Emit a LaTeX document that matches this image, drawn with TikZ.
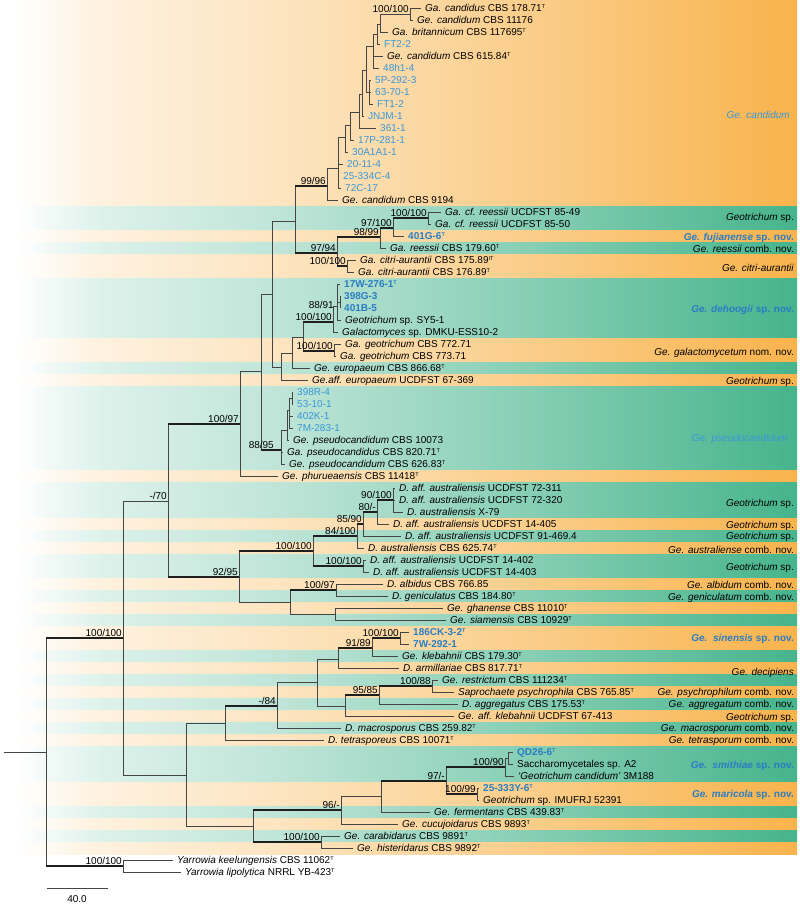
\documentclass[tikz,border=0pt]{standalone}
\usepackage{fontspec}
\setmainfont{Liberation Sans}
\definecolor{orF}{HTML}{F8B34C}
\definecolor{grF}{HTML}{46B48D}
\colorlet{orA}{orF!18!white}
\colorlet{orB}{orF!35!white}
\colorlet{orC}{orF!69!white}
\colorlet{grA}{grF!18!white}
\colorlet{grB}{grF!35!white}
\colorlet{grC}{grF!69!white}
\definecolor{lblue}{HTML}{3A97D6}
\definecolor{dblue}{HTML}{2B7DC2}
\definecolor{lineC}{HTML}{454545}
\pgfdeclarehorizontalshading{shO}{100bp}{color(0bp)=(white); color(25.94bp)=(white); color(31.27bp)=(orA); color(42.57bp)=(orB); color(60.13bp)=(orC); color(75bp)=(orF); color(100bp)=(orF)}
\pgfdeclarehorizontalshading{shG}{100bp}{color(0bp)=(white); color(25.94bp)=(white); color(31.27bp)=(grA); color(42.57bp)=(grB); color(60.13bp)=(grC); color(75bp)=(grF); color(100bp)=(grF)}
\newcommand\lfnt{\fontsize{10}{12}\selectfont}
\newcommand\tp{\raisebox{3.3pt}{\fontsize{5.5}{6}\selectfont T}}
\newcommand\itp{\raisebox{3.3pt}{\fontsize{5.5}{6}\selectfont IT}}
\newcommand\tbr[2]{\draw[br] (#1) |- (#2);}
\newcommand\tbl[2]{\draw[br] (#1) |- (#2.west);}
\newcommand\tbt[2]{\draw[br] (#1) -- (#1 |- #2); \draw[brt] (#1 |- #2) -- (#2);}
\newcommand\bandO[2]{\shade[shading=shO] (0,#1) rectangle (797,#2);}
\newcommand\bandG[2]{\shade[shading=shG] (0,#1) rectangle (797,#2);}
\begin{document}
\begin{tikzpicture}[x=1pt,y=-1pt,
  lf/.style={anchor=west, inner xsep=4pt, inner ysep=0pt, text height=7.2pt, text depth=0.2pt, font=\lfnt},
  lfb/.style={lf, text=lblue},
  lfn/.style={lf, text=dblue, font=\lfnt\bfseries},
  bs/.style={anchor=south east, inner sep=0pt, xshift=-1pt, yshift=1.2pt, font=\lfnt},
  br/.style={draw=lineC, line width=0.8pt},
  brt/.style={draw=black!88, line width=2.2pt},
  cl/.style={anchor=base east, inner sep=0pt, font=\lfnt}]
\useasboundingbox (0,0) rectangle (800,905);
% ---------- bands ----------
\bandO{0}{206}\bandG{206}{230}\bandO{230}{242}\bandG{242}{254}\bandO{254}{278}
\bandG{278}{338}\bandO{338}{362}\bandG{362}{374}\bandO{374}{386}\bandG{386}{470}
\bandO{470}{482}\bandG{482}{518}\bandO{518}{530}\bandG{530}{542}\bandO{542}{554}
\bandG{554}{578}\bandO{578}{590}\bandG{590}{602}\bandO{602}{614}\bandG{614}{626}
\bandO{626}{650}\bandG{650}{662}\bandO{662}{674}\bandG{674}{686}\bandO{686}{698}
\bandG{698}{710}\bandO{710}{722}\bandG{722}{734}\bandO{734}{746}\bandG{746}{782}
\bandO{782}{806}\bandG{806}{818}\bandO{818}{830}\bandG{830}{842}\bandO{842}{854}
% ---------- leaves ----------
\node[lf] (l1) at (421,8) {\textit{Ga. candidus} CBS 178.71\tp};
\node[lf] (l2) at (413,20) {\textit{Ge. candidum} CBS 11176};
\node[lf] (l3) at (388,32) {\textit{Ga. britannicum} CBS 117695\tp};
\node[lfb] (l4) at (380,44) {FT2-2};
\node[lf] (l5) at (383,56) {\textit{Ge. candidum} CBS 615.84\tp};
\node[lfb] (l6) at (379,68) {48h1-4};
\node[lfb] (l7) at (371,80) {5P-292-3};
\node[lfb] (l8) at (371,92) {63-70-1};
\node[lfb] (l9) at (373,104) {FT1-2};
\node[lfb] (l10) at (364,116) {JNJM-1};
\node[lfb] (l11) at (376,128) {361-1};
\node[lfb] (l12) at (354,140) {17P-281-1};
\node[lfb] (l13) at (348,152) {30A1A1-1};
\node[lfb] (l14) at (343,164) {20-11-4};
\node[lfb] (l15) at (339,176) {25-334C-4};
\node[lfb] (l16) at (341,188) {72C-17};
\node[lf] (l17) at (338,200) {\textit{Ge. candidum} CBS 9194};
\node[lf] (l18) at (441,212) {\textit{Ga. cf. reessii} UCDFST 85-49};
\node[lf] (l19) at (431,224) {\textit{Ga. cf. reessii} UCDFST 85-50};
\node[lfn] (l20) at (404,236) {401G-6\tp};
\node[lf] (l21) at (386,248) {\textit{Ga. reessii} CBS 179.60\tp};
\node[lf] (l22) at (356,260) {\textit{Ga. citri-aurantii} CBS 175.89\itp};
\node[lf] (l23) at (354,272) {\textit{Ga. citri-aurantii} CBS 176.89\tp};
\node[lfn] (l24) at (340,284) {17W-276-1\tp};
\node[lfn] (l25) at (340,296) {398G-3};
\node[lfn] (l26) at (340,308) {401B-5};
\node[lf] (l27) at (341,320) {\textit{Geotrichum} sp. SY5-1};
\node[lf] (l28) at (338,332) {\textit{Galactomyces} sp. DMKU-ESS10-2};
\node[lf] (l29) at (341,344) {\textit{Ga. geotrichum} CBS 772.71};
\node[lf] (l30) at (336,356) {\textit{Ga. geotrichum} CBS 773.71};
\node[lf] (l31) at (310,368) {\textit{Ge. europaeum} CBS 866.68\tp};
\node[lf] (l32) at (308,380) {\textit{Ge.aff. europaeum} UCDFST 67-369};
\node[lfb] (l33) at (293,392) {398R-4};
\node[lfb] (l34) at (293,404) {53-10-1};
\node[lfb] (l35) at (293,416) {402K-1};
\node[lfb] (l36) at (293,428) {7M-283-1};
\node[lf] (l37) at (289,440) {\textit{Ge. pseudocandidum} CBS 10073};
\node[lf] (l38) at (283,452) {\textit{Ga. pseudocandidus} CBS 820.71\tp};
\node[lf] (l39) at (285,464) {\textit{Ge. pseudocandidum} CBS 626.83\tp};
\node[lf] (l40) at (278,476) {\textit{Ge. phurueaensis} CBS 11418\tp};
\node[lf] (l41) at (395,488) {\textit{D. aff. australiensis} UCDFST 72-311};
\node[lf] (l42) at (395,500) {\textit{D. aff. australiensis} UCDFST 72-320};
\node[lf] (l43) at (403,512) {\textit{D. australiensis} X-79};
\node[lf] (l44) at (389,524) {\textit{D. aff. australiensis} UCDFST 14-405};
\node[lf] (l45) at (401,536) {\textit{D. aff. australiensis} UCDFST 91-469.4};
\node[lf] (l46) at (364,548) {\textit{D. australiensis} CBS 625.74\tp};
\node[lf] (l47) at (366,560) {\textit{D. aff. australiensis} UCDFST 14-402};
\node[lf] (l48) at (369,572) {\textit{D. aff. australiensis} UCDFST 14-403};
\node[lf] (l49) at (383,584) {\textit{D. albidus} CBS 766.85};
\node[lf] (l50) at (388,596) {\textit{D. geniculatus} CBS 184.80\tp};
\node[lf] (l51) at (443,608) {\textit{Ge. ghanense} CBS 11010\tp};
\node[lf] (l52) at (446,620) {\textit{Ge. siamensis} CBS 10929\tp};
\node[lfn] (l53) at (409,632) {186CK-3-2\tp};
\node[lfn] (l54) at (409,644) {7W-292-1};
\node[lf] (l55) at (398,656) {\textit{Ge. klebahnii} CBS 179.30\tp};
\node[lf] (l56) at (399,668) {\textit{D. armillariae} CBS 817.71\tp};
\node[lf] (l57) at (438,680) {\textit{Ge. restrictum} CBS 111234\tp};
\node[lf] (l58) at (454,692) {\textit{Saprochaete psychrophila} CBS 765.85\tp};
\node[lf] (l59) at (458,704) {\textit{D. aggregatus} CBS 175.53\tp};
\node[lf] (l60) at (454,716) {\textit{Ge. aff. klebahnii} UCDFST 67-413};
\node[lf] (l61) at (341,728) {\textit{D. macrosporus} CBS 259.82\tp};
\node[lf] (l62) at (324,740) {\textit{D. tetrasporeus} CBS 10071\tp};
\node[lfn] (l63) at (513,752) {QD26-6\tp};
\node[lf] (l64) at (513,764) {Saccharomycetales sp. A2};
\node[lf] (l65) at (514,776) {\textit{`Geotrichum candidum'} 3M188};
\node[lfn] (l66) at (479,788) {25-333Y-6\tp};
\node[lf] (l67) at (479,800) {\textit{Geotrichum} sp. IMUFRJ 52391};
\node[lf] (l68) at (430,812) {\textit{Ge. fermentans} CBS 439.83\tp};
\node[lf] (l69) at (398,824) {\textit{Ge. cucujoidarus} CBS 9893\tp};
\node[lf] (l70) at (340,836) {\textit{Ge. carabidarus} CBS 9891\tp};
\node[lf] (l71) at (353,848) {\textit{Ge. histeridarus} CBS 9892\tp};
\node[lf] (l72) at (173,860) {\textit{Yarrowia keelungensis} CBS 11062\tp};
\node[lf] (l73) at (181,872) {\textit{Yarrowia lipolytica} NRRL YB-423\tp};
% ---------- internal nodes ----------
\coordinate (r) at (4,752);
\coordinate (R0) at (46,752);
\coordinate (A) at (123,638);
\coordinate (Y) at (123,866);
\coordinate (B) at (168,501);
\coordinate (L) at (186,775);
\coordinate (C) at (240,424);
\coordinate (K) at (239,577);
\coordinate (D) at (261,371);
\coordinate (E) at (272,294);
\coordinate (Q0) at (281,450);
\coordinate (G) at (295,221);
\coordinate (F) at (281,367);
\coordinate (H) at (327,186);
\coordinate (I) at (337,253);
\coordinate (c11) at (338,168);
\coordinate (c10) at (345,137);
\coordinate (c9) at (350,125);
\coordinate (c8) at (359,112);
\coordinate (c7) at (362,94);
\coordinate (c6) at (366,70);
\coordinate (c5) at (369,92);
\coordinate (c4) at (373,46);
\coordinate (c3) at (377,34);
\coordinate (c2) at (380,24);
\coordinate (c1) at (410,14);
\coordinate (J) at (380,237);
\coordinate (J2) at (393,228);
\coordinate (J3) at (428,218);
\coordinate (Ci) at (347,266);
\coordinate (F2) at (292,353);
\coordinate (Fd) at (303,337);
\coordinate (Dh) at (333,322);
\coordinate (Dh1) at (337,306);
\coordinate (Dh2) at (340,302);
\coordinate (Gg) at (334,351);
\coordinate (Q1) at (287,430);
\coordinate (Q2) at (289,410);
\coordinate (Q3) at (292,398);
\coordinate (M) at (313,551);
\coordinate (M1) at (357,536);
\coordinate (M3) at (363,524);
\coordinate (M4) at (377,512);
\coordinate (M5) at (393,500);
\coordinate (M2) at (363,566);
\coordinate (K2) at (290,602);
\coordinate (K3) at (336,590);
\coordinate (K4) at (335,614);
\coordinate (Lu) at (225,723);
\coordinate (Lu1) at (277,706);
\coordinate (Lu2) at (317,682);
\coordinate (Lu3) at (338,659);
\coordinate (Lu5) at (372,648);
\coordinate (Lu6) at (400,638);
\coordinate (Lu4) at (345,706);
\coordinate (Lu7) at (379,695);
\coordinate (Lu8) at (432,686);
\coordinate (Ll) at (253,826);
\coordinate (Ll1) at (341,810);
\coordinate (Ll2) at (321,842);
\coordinate (Ll3) at (381,796);
\coordinate (Ll4) at (446,781);
\coordinate (Ll5) at (505,767);
\coordinate (Ll7) at (508,758);
\coordinate (Ll6) at (477,794);
% ---------- branches ----------
\draw[br] (r) -- (R0);
\tbt{R0}{A}\tbt{R0}{Y}
\tbl{Y}{l72}\tbl{Y}{l73}
\tbr{A}{B}\tbr{A}{L}
\tbt{B}{C}\tbt{B}{K}
\tbr{C}{D}\tbl{C}{l40}
\tbr{D}{E}\tbt{D}{Q0}
\tbr{E}{G}\tbr{E}{F}
\tbt{G}{H}\tbt{G}{I}
\tbr{H}{c11}\tbl{H}{l17}
\tbr{c11}{c10}\tbl{c11}{l14}\tbl{c11}{l15}\tbl{c11}{l16}
\tbr{c10}{c9}\tbl{c10}{l13}
\tbr{c9}{c8}\tbl{c9}{l12}
\tbr{c8}{c7}\tbl{c8}{l11}
\tbr{c7}{c6}\tbl{c7}{l10}
\tbr{c6}{c4}\tbr{c6}{c5}
\tbl{c5}{l7}\tbl{c5}{l8}\tbl{c5}{l9}
\tbr{c4}{c3}\tbl{c4}{l5}\tbl{c4}{l6}
\tbr{c3}{c2}\tbl{c3}{l4}
\tbr{c2}{c1}\tbl{c2}{l3}
\tbl{c1}{l1}\tbl{c1}{l2}
\tbt{I}{J}\tbt{I}{Ci}
\tbt{J}{J2}\tbl{J}{l21}
\tbt{J2}{J3}\tbl{J2}{l20}
\tbl{J3}{l18}\tbl{J3}{l19}
\tbl{Ci}{l22}\tbl{Ci}{l23}
\tbr{F}{F2}\tbl{F}{l32}
\tbr{F2}{Fd}\tbl{F2}{l31}
\tbt{Fd}{Dh}\tbt{Fd}{Gg}
\tbr{Dh}{Dh1}\tbl{Dh}{l28}
\tbl{Dh1}{l24}\tbr{Dh1}{Dh2}\tbl{Dh1}{l27}
\tbl{Dh2}{l25}\tbl{Dh2}{l26}
\tbl{Gg}{l29}\tbl{Gg}{l30}
\tbr{Q0}{Q1}\tbl{Q0}{l38}\tbl{Q0}{l39}
\tbr{Q1}{Q2}\tbl{Q1}{l37}
\tbr{Q2}{Q3}\tbl{Q2}{l35}\tbl{Q2}{l36}
\tbl{Q3}{l33}\tbl{Q3}{l34}
\tbt{K}{M}\tbr{K}{K2}
\tbt{M}{M1}\tbt{M}{M2}
\tbt{M1}{M3}\tbl{M1}{l46}
\tbt{M3}{M4}\tbl{M3}{l45}
\tbt{M4}{M5}\tbl{M4}{l44}
\tbl{M5}{l41}\tbl{M5}{l42}\tbl{M5}{l43}
\tbl{M2}{l47}\tbl{M2}{l48}
\tbt{K2}{K3}\tbr{K2}{K4}
\tbl{K3}{l49}\tbl{K3}{l50}
\tbl{K4}{l51}\tbl{K4}{l52}
\tbr{L}{Lu}\tbr{L}{Ll}
\tbt{Lu}{Lu1}\tbl{Lu}{l62}
\tbr{Lu1}{Lu2}\tbl{Lu1}{l61}
\tbr{Lu2}{Lu3}\tbr{Lu2}{Lu4}
\tbt{Lu3}{Lu5}\tbl{Lu3}{l56}
\tbt{Lu5}{Lu6}\tbl{Lu5}{l55}
\tbl{Lu6}{l53}\tbl{Lu6}{l54}
\tbt{Lu4}{Lu7}\tbl{Lu4}{l60}
\tbt{Lu7}{Lu8}\tbl{Lu7}{l59}
\tbl{Lu8}{l57}\tbl{Lu8}{l58}
\tbt{Ll}{Ll1}\tbt{Ll}{Ll2}
\tbr{Ll1}{Ll3}\tbl{Ll1}{l69}
\tbt{Ll3}{Ll4}\tbl{Ll3}{l68}
\tbt{Ll4}{Ll5}\tbt{Ll4}{Ll6}
\tbr{Ll5}{Ll7}\tbl{Ll5}{l65}
\tbl{Ll7}{l63}\tbl{Ll7}{l64}
\tbl{Ll6}{l66}\tbl{Ll6}{l67}
\tbl{Ll2}{l70}\tbl{Ll2}{l71}
% ---------- support values ----------
\node[bs] (sA) at (A) {100/100};
\node[bs] (sY) at (Y) {100/100};
\node[bs] (sB) at (B) {-/70};
\node[bs] (sC) at (C) {100/97};
\node[bs] (sK) at (K) {92/95};
\node[bs] (sH) at (H) {99/96};
\node[bs] (sI) at (I) {97/94};
\node[bs] (sc1) at (c1) {100/100};
\node[bs] (sJ) at (J) {98/99};
\node[bs] (sJ2) at (J2) {97/100};
\node[bs] (sJ3) at (J3) {100/100};
\node[bs] (sCi) at (Ci) {100/100};
\node[bs] (sDh) at (Dh) {100/100};
\node[bs] (sGg) at (Gg) {100/100};
\node[bs] (sDh2) at (335,310) {88/91};
\node[bs] (sQ0) at (275,450) {88/95};
\node[bs] (sM) at (M) {100/100};
\node[bs] (sM1) at (M1) {84/100};
\node[bs] (sM3) at (M3) {85/90};
\node[bs] (sM4) at (M4) {80/-};
\node[bs] (sM5) at (M5) {90/100};
\node[bs] (sM2) at (M2) {100/100};
\node[bs] (sK3) at (K3) {100/97};
\node[bs] (sLu6) at (Lu6) {100/100};
\node[bs] (sLu5) at (Lu5) {91/89};
\node[bs] (sLu1) at (Lu1) {-/84};
\node[bs] (sLu7) at (Lu7) {95/85};
\node[bs] (sLu8) at (Lu8) {100/88};
\node[bs] (sLl4) at (Ll4) {97/-};
\node[bs] (sLl5) at (Ll5) {100/90};
\node[bs] (sLl6) at (Ll6) {100/99};
\node[bs] (sLl1) at (Ll1) {96/-};
\node[bs] (sLl2) at (Ll2) {100/100};
% ---------- clade names ----------
\node[cl, text=lblue] (n1) at (790,118.5) {\textit{Ge. candidum}};
\node[cl] (n2) at (794,220.5) {\textit{Geotrichum} sp.};
\node[cl, text=dblue, font=\lfnt\bfseries] (n3) at (794,240.5) {\textit{Ge. fujianense} sp. nov.};
\node[cl] (n4) at (794,252.5) {\textit{Ge. reessii} comb. nov.};
\node[cl] (n5) at (794,271.5) {\textit{Ge. citri-aurantii}};
\node[cl, text=dblue, font=\lfnt\bfseries] (n6) at (794,312.5) {\textit{Ge. dehoogii} sp. nov.};
\node[cl] (n7) at (794,355.5) {\textit{Ge. galactomycetum} nom. nov.};
\node[cl] (n8) at (794,384.5) {\textit{Geotrichum} sp.};
\node[cl, text=lblue] (n9) at (788,441.5) {\textit{Ge. pseudocandidum}};
\node[cl] (n10) at (794,506.5) {\textit{Geotrichum} sp.};
\node[cl] (n11) at (794,528.5) {\textit{Geotrichum} sp.};
\node[cl] (n12) at (794,539.5) {\textit{Geotrichum} sp.};
\node[cl] (n13) at (794,553.5) {\textit{Ge. australiense} comb. nov.};
\node[cl] (n14) at (794,570.5) {\textit{Geotrichum} sp.};
\node[cl] (n15) at (794,588.5) {\textit{Ge. albidum} comb. nov.};
\node[cl] (n16) at (794,600.5) {\textit{Ge. geniculatum} comb. nov.};
\node[cl, text=dblue, font=\lfnt\bfseries] (n17) at (794,641.5) {\textit{Ge.\ \ sinensis} sp. nov.};
\node[cl] (n18) at (794,675.5) {\textit{Ge. decipiens}};
\node[cl] (n19) at (794,695.5) {\textit{Ge. psychrophilum} comb. nov.};
\node[cl] (n20) at (794,707.5) {\textit{Ge. aggregatum} comb. nov.};
\node[cl] (n21) at (794,720.5) {\textit{Geotrichum} sp.};
\node[cl] (n22) at (794,731.5) {\textit{Ge. macrosporum} comb. nov.};
\node[cl] (n23) at (794,743.5) {\textit{Ge. tetrasporum} comb. nov.};
\node[cl, text=dblue, font=\lfnt\bfseries] (n24) at (794,768.5) {\textit{Ge.\ \ smithiae} sp. nov.};
\node[cl, text=dblue, font=\lfnt\bfseries] (n25) at (794,797.5) {\textit{Ge. maricola} sp. nov.};
% ---------- scale bar ----------
\coordinate (sb1) at (47,888);
\coordinate (sb2) at (108,888);
\draw[br] (sb1) -- (sb2);
\node[font=\lfnt, inner sep=0pt] (sbl) at (77,899) {40.0};
\end{tikzpicture}
\end{document}
